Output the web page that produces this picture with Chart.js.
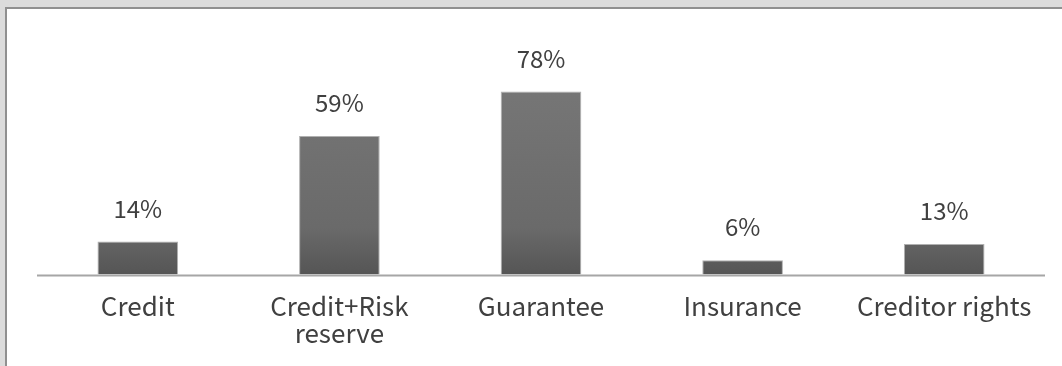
<!DOCTYPE html>
<html>
<head>
<meta charset="utf-8">
<script src="https://cdn.jsdelivr.net/npm/chart.js@4.4.1/dist/chart.umd.min.js"></script>
<style>
  html, body { margin: 0; padding: 0; background: #dcdcdc; width: 1062px; height: 366px; overflow: hidden; }
  #frame { position: absolute; left: 5px; top: 7px; width: 1057px; height: 359px; border-left: 2px solid #909090; border-top: 2px solid #909090; background: #ffffff; }
  #wrap { position: absolute; left: 0; top: 0; width: 1057px; height: 359px; }
</style>
</head>
<body>
<div id="frame"><div id="wrap"><canvas id="c"></canvas></div></div>
<script>
const categories = ['Credit', ['Credit+Risk', 'reserve'], 'Guarantee', 'Insurance', 'Creditor rights'];
const values = [14, 59, 78, 6, 13];
const valueLabels = ['14%', '59%', '78%', '6%', '13%'];

const FONT = '"Noto Sans CJK SC", "Noto Sans", sans-serif';

const axisLinePlugin = {
  id: 'axisLine',
  beforeDatasetsDraw(chart) {
    const { ctx, chartArea } = chart;
    ctx.save();
    ctx.strokeStyle = '#a6a6a6';
    ctx.lineWidth = 2;
    ctx.beginPath();
    ctx.moveTo(chartArea.left, chartArea.bottom + 1);
    ctx.lineTo(chartArea.right, chartArea.bottom + 1);
    ctx.stroke();
    ctx.restore();
  }
};

const valueLabelPlugin = {
  id: 'valueLabels',
  afterDatasetsDraw(chart) {
    const ctx = chart.ctx;
    const meta = chart.getDatasetMeta(0);
    ctx.save();
    ctx.font = '24px ' + FONT;
    ctx.fillStyle = '#404040';
    ctx.textAlign = 'center';
    ctx.textBaseline = 'middle';
    meta.data.forEach((bar, i) => {
      ctx.fillText(valueLabels[i], bar.x, bar.y - 33);
    });
    ctx.restore();
  }
};

const ctx = document.getElementById('c').getContext('2d');
new Chart(ctx, {
  type: 'bar',
  data: {
    labels: categories,
    datasets: [{
      data: values,
      backgroundColor: (c) => {
        const area = c.chart.chartArea;
        if (!area) return '#606060';
        const g = c.chart.ctx.createLinearGradient(0, area.top, 0, area.bottom);
        g.addColorStop(0, '#7a7a7a');
        g.addColorStop(0.8, '#6a6a6a');
        g.addColorStop(1, '#555555');
        return g;
      },
      borderColor: '#b0b0b0',
      borderWidth: 1,
      borderSkipped: 'bottom',
      categoryPercentage: 0.8,
      barPercentage: 0.5
    }]
  },
  options: {
    responsive: true,
    maintainAspectRatio: false,
    animation: false,
    layout: { padding: { left: 30, right: 19, top: 31, bottom: 3 } },
    plugins: { legend: { display: false }, tooltip: { enabled: false } },
    scales: {
      x: {
        grid: { display: false, drawTicks: false },
        border: { display: false },
        ticks: { color: '#404040', font: { family: FONT, size: 26, lineHeight: 1.05 }, padding: 18, maxRotation: 0, autoSkip: false }
      },
      y: {
        display: false,
        min: 0,
        max: 100
      }
    }
  },
  plugins: [axisLinePlugin, valueLabelPlugin]
});
</script>
</body>
</html>
